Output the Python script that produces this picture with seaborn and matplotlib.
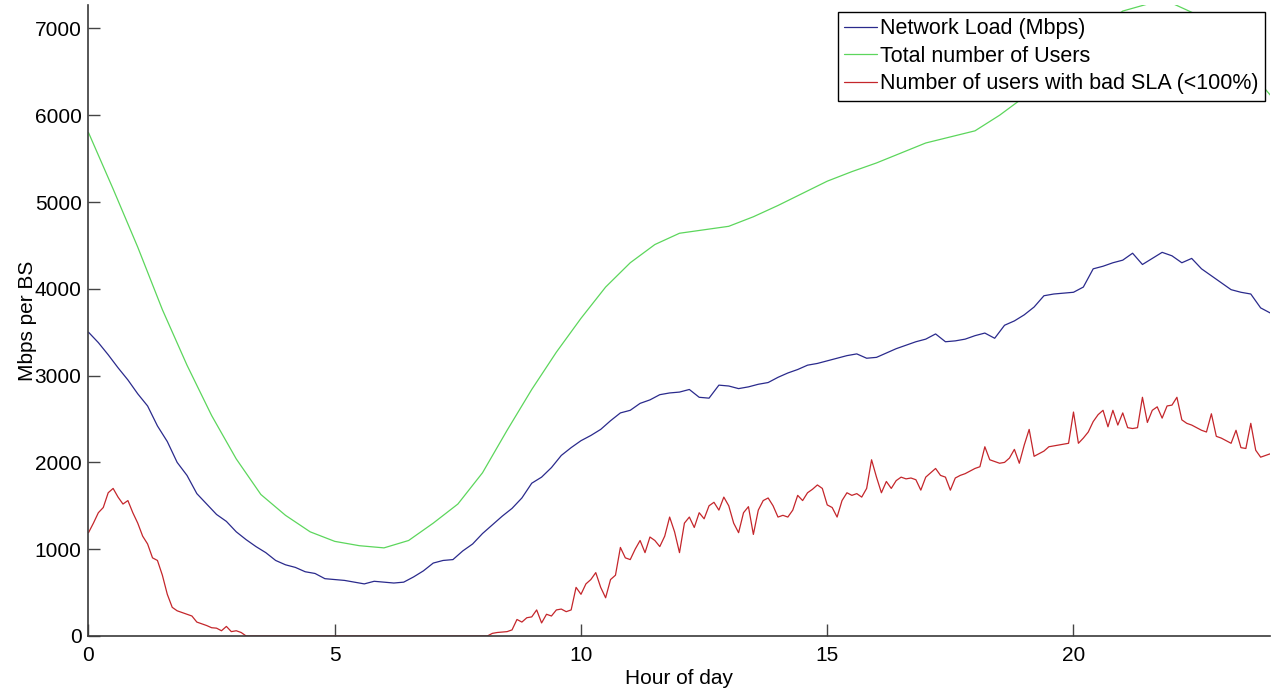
"""
plot.py — суточная нагрузка сети и число пользователей на BS
"""

import numpy as np
import pandas as pd
import matplotlib
matplotlib.use("Agg")
import matplotlib.pyplot as plt
import seaborn as sns


# ── Данные ────────────────────────────────────────────────────────────────────

# Network Load (Mbps), шаг 0.2 ч
load_mbps = [
    3500, 3380, 3240, 3090, 2950, 2790, 2650, 2420, 2240, 2000,
    1850, 1640, 1520, 1400, 1320, 1200, 1110, 1030, 960, 870,
    820, 790, 740, 720, 660, 650, 640, 620, 600, 630,
    620, 610, 620, 680, 750, 840, 870, 880, 980, 1060,
    1180, 1280, 1380, 1470, 1590, 1760, 1830, 1940, 2080, 2170,
    2250, 2310, 2380, 2480, 2570, 2600, 2680, 2720, 2780, 2800,
    2810, 2840, 2750, 2740, 2890, 2880, 2850, 2870, 2900, 2920,
    2980, 3030, 3070, 3120, 3140, 3170, 3200, 3230, 3250, 3200,
    3210, 3260, 3310, 3350, 3390, 3420, 3480, 3390, 3400, 3420,
    3460, 3490, 3430, 3580, 3630, 3700, 3790, 3920, 3940, 3950,
    3960, 4020, 4230, 4260, 4300, 4330, 4410, 4280, 4350, 4420,
    4380, 4300, 4350, 4230, 4150, 4070, 3990, 3960, 3940, 3780,
    3720,
]

# Total number of Users, шаг 0.5 ч
total_users = [
    5800, 5150, 4480, 3760, 3120, 2540, 2040, 1630, 1390, 1200,
    1090, 1040, 1015, 1100, 1300, 1520, 1880, 2370, 2840, 3270,
    3660, 4020, 4300, 4510, 4640, 4680, 4720, 4830, 4960, 5100,
    5240, 5350, 5450, 5565, 5680, 5750, 5820, 6000, 6210, 6470,
    6730, 6980, 7200, 7280, 7290, 7160, 6900, 6560, 6230,
]

# Number of users with bad SLA (<100%), шаг 0.1 ч
bad_sla_users = [
    1190, 1300, 1420, 1480, 1650, 1700, 1600, 1520, 1560, 1420,
    1300, 1150, 1060, 900, 870, 700, 480, 330, 290, 270,
    250, 230, 160, 140, 120, 95, 90, 60, 110, 50,
    60, 40, 0, 0, 0, 0, 0, 0, 0, 0,
    0, 0, 0, 0, 0, 0, 0, 0, 0, 0,
    0, 0, 0, 0, 0, 0, 0, 0, 0, 0,
    0, 0, 0, 0, 0, 0, 0, 0, 0, 0,
    0, 0, 0, 0, 0, 0, 0, 0, 0, 0,
    0, 0, 30, 40, 45, 50, 70, 190, 160, 210,
    220, 300, 150, 250, 230, 300, 310, 280, 300, 560,
    480, 600, 650, 730, 560, 440, 650, 700, 1020, 900,
    880, 1000, 1100, 960, 1140, 1100, 1030, 1150, 1370, 1200,
    960, 1300, 1370, 1250, 1420, 1350, 1500, 1540, 1450, 1600,
    1500, 1300, 1190, 1420, 1490, 1170, 1450, 1560, 1590, 1500,
    1370, 1390, 1370, 1450, 1620, 1560, 1650, 1690, 1740, 1700,
    1510, 1480, 1370, 1560, 1650, 1620, 1640, 1600, 1700, 2030,
    1830, 1650, 1780, 1700, 1790, 1830, 1810, 1820, 1800, 1680,
    1830, 1880, 1930, 1850, 1830, 1680, 1820, 1850, 1870, 1900,
    1930, 1950, 2180, 2030, 2010, 1990, 2000, 2050, 2150, 1990,
    2200, 2380, 2070, 2100, 2130, 2180, 2190, 2200, 2210, 2220,
    2580, 2220, 2280, 2350, 2470, 2550, 2600, 2410, 2600, 2430,
    2570, 2400, 2390, 2400, 2750, 2460, 2600, 2640, 2510, 2650,
    2660, 2750, 2490, 2450, 2430, 2400, 2370, 2350, 2560, 2300,
    2280, 2250, 2220, 2370, 2170, 2160, 2450, 2140, 2060, 2080,
    2100,
]

labels = [
    "Network Load (Mbps)",
    "Total number of Users",
    "Number of users with bad SLA (<100%)",
]
colors = ["#2a2a8c", "#5cd65c", "#c4262b"]

x_ticks = [0, 5, 10, 15, 20]
y_ticks = [0, 1000, 2000, 3000, 4000, 5000, 6000, 7000]


def hours_for(values):
    # равномерная сетка по суткам 0..24 ч
    return np.linspace(0, 24, len(values))


# ── Рисунок ───────────────────────────────────────────────────────────────────

sns.set_style("white")
plt.rcParams["font.family"] = ["Liberation Sans", "DejaVu Sans"]
plt.rcParams["text.color"] = "black"
plt.rcParams["axes.labelcolor"] = "black"

fig = plt.figure(figsize=(12.77, 6.93), dpi=100)
ax = fig.add_axes([0.0693, 0.0823, 0.9256, 0.9105])

series = [load_mbps, total_users, bad_sla_users]
for vals, lab, col in zip(series, labels, colors):
    df = pd.DataFrame({"hour": hours_for(vals), "value": vals})
    sns.lineplot(data=df, x="hour", y="value", color=col, label=lab,
                 linewidth=0.9, ax=ax)

ax.set_xlim(0, 24)
ax.set_ylim(0, 7270)
ax.set_xticks(x_ticks)
ax.set_yticks(y_ticks)
ax.set_xlabel("Hour of day", fontsize=15, labelpad=3)
ax.set_ylabel("Mbps per BS", fontsize=15, labelpad=-2)

ax.tick_params(axis="both", which="major", direction="in", length=8.5,
               width=1, color="#444444", labelcolor="black", labelsize=15,
               left=True, bottom=True)
ax.tick_params(axis="x", pad=7)
ax.tick_params(axis="y", pad=5)
for side in ["top", "right"]:
    ax.spines[side].set_visible(False)
for side in ["left", "bottom"]:
    ax.spines[side].set_color("#3a3a3a")
    ax.spines[side].set_linewidth(1.2)

leg = ax.legend(loc="upper right", bbox_to_anchor=(0.995, 0.989),
                fontsize=15.5, frameon=True, fancybox=False,
                framealpha=1, edgecolor="black", borderpad=0.3,
                labelspacing=0.3, handlelength=1.55, handletextpad=0.1,
                borderaxespad=0)
leg.get_frame().set_linewidth(1.0)

fig.savefig("out.png", dpi=100)
